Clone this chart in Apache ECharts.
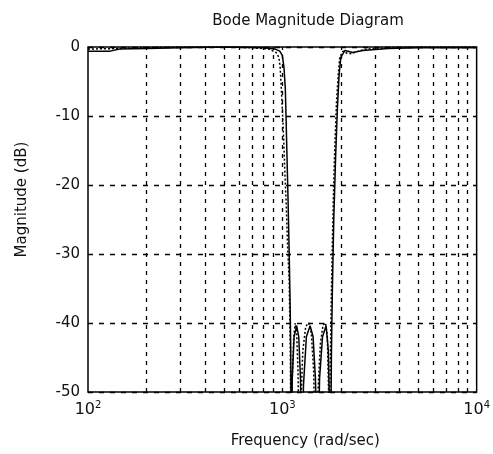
<!DOCTYPE html>
<html>
<head>
<meta charset="utf-8">
<script src="https://cdn.jsdelivr.net/npm/echarts@6/dist/echarts.min.js"></script>
<style>
  html, body { margin: 0; padding: 0; background: #fff; }
  #main { width: 493px; height: 454px; }
</style>
</head>
<body>
<div id="main"></div>
<script>
// solid response: frequency (rad/sec) and magnitude (dB)
const solidFreq = [100,130,145,200,300,500,800,920,970,1000,1020,1036,1045,1055,1070,1085,1098,1105,1112,1125,1150,1185,1215,1240,1260,1285,1330,1390,1440,1480,1520,1555,1610,1680,1725,1755,1770,1790,1810,1840,1880,1920,1960,2000,2100,2300,2600,3500,5000,10000];
const solidMag = [-0.6,-0.6,-0.3,-0.2,-0.1,0,-0.1,-0.3,-0.6,-1.2,-3,-6,-10,-15,-22,-30,-38,-44,-62,-48,-42,-40.4,-42,-48,-62,-49,-42,-40.4,-42,-48,-62,-48,-42,-40.4,-44,-55,-62,-44,-35,-25,-16,-9,-4,-1.5,-0.5,-0.8,-0.5,-0.2,-0.1,-0.1];
// dotted response
const dotFreq = [100,150,200,300,500,700,850,930,960,975,988,1000,1015,1030,1048,1065,1085,1100,1110,1125,1145,1165,1185,1205,1225,1245,1275,1320,1370,1410,1450,1490,1525,1570,1620,1670,1705,1730,1745,1760,1790,1830,1860,1900,1940,1975,2050,2150,2270,2400,2700,3500,5000,10000];
const dotMag = [-0.3,-0.2,-0.1,0,0,-0.1,-0.3,-0.8,-1.5,-3,-6,-9,-13,-18,-23,-29,-34,-45,-65,-48,-42,-40,-41.5,-47,-65,-52,-44,-40.5,-40,-41.5,-47,-65,-50,-43,-40.3,-40,-42,-50,-65,-48,-35,-22,-15,-8,-4,-1.5,-0.6,-0.9,-1,-0.7,-0.3,-0.1,0,0];
// vertical grid lines (rad/sec)
const gridFreq = [200,300,400,500,600,700,800,900,1000,2000,3000,4000,5000,6000,7000,8000,9000];

const font = 'DejaVu Sans';
const pair = (xs, ys) => xs.map((x, i) => [x, ys[i]]);

const chart = echarts.init(document.getElementById('main'));
chart.setOption({
  animation: false,
  backgroundColor: '#fff',
  title: {
    text: 'Bode Magnitude Diagram',
    left: 303, top: 9, textAlign: 'center',
    textStyle: { fontFamily: font, fontSize: 15, fontWeight: 'normal', color: '#111' }
  },
  grid: { left: 88, right: 11, top: 47, bottom: 60, show: true, borderColor: '#000', borderWidth: 1.5 },
  xAxis: {
    type: 'log', logBase: 10, min: 100, max: 10000,
    name: 'Frequency (rad/sec)', nameLocation: 'middle', nameGap: 42,
    nameTextStyle: { fontFamily: font, fontSize: 15, color: '#111', padding: [0, 0, 0, 46] },
    axisLine: { show: false }, axisTick: { show: false },
    splitLine: { show: false },
    axisLabel: {
      margin: 8,
      formatter: v => '{b|10}{s|' + Math.round(Math.log10(v)) + '}',
      rich: {
        b: { fontFamily: font, fontSize: 16, color: '#111' },
        s: { fontFamily: font, fontSize: 10, color: '#111', verticalAlign: 'bottom', padding: [0, 0, 10, 0] }
      }
    }
  },
  yAxis: {
    type: 'value', min: -50, max: 0, interval: 10,
    name: 'Magnitude (dB)', nameLocation: 'middle', nameGap: 58,
    nameTextStyle: { fontFamily: font, fontSize: 15, color: '#111', padding: [0, 0, 0, 40] },
    axisLine: { show: false }, axisTick: { show: false },
    axisLabel: { margin: 8, fontFamily: font, fontSize: 15, color: '#111' },
    splitLine: { show: true, lineStyle: { color: '#000', width: 1.3, type: [5, 6] } }
  },
  series: [
    {
      type: 'line', data: pair(solidFreq, solidMag), showSymbol: false, clip: true, z: 3,
      lineStyle: { color: '#000', width: 1.5 },
      markLine: {
        silent: true, symbol: ['none', 'none'], label: { show: false },
        lineStyle: { color: '#000', width: 1.3, type: [4, 5] },
        data: gridFreq.map(f => ({ xAxis: f }))
      }
    },
    {
      type: 'line', data: pair(dotFreq, dotMag), showSymbol: false, clip: true, z: 4,
      lineStyle: { color: '#000', width: 1.5, type: [2, 2] }
    }
  ]
});
</script>
</body>
</html>
